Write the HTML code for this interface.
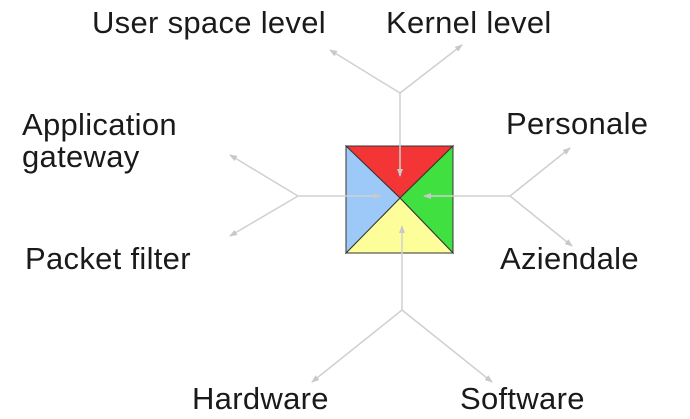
<!DOCTYPE html>
<html><head><style>
body{margin:0;width:690px;height:419px;background:#fff;overflow:hidden;position:relative;font-family:"Liberation Sans",Arial,sans-serif;}
.t{position:absolute;font-size:31px;letter-spacing:0.3px;color:#1a1a1a;line-height:32px;white-space:nowrap;}
</style></head><body>
<svg width="690" height="419" style="position:absolute;left:0;top:0">
<defs><marker id="a" markerWidth="8" markerHeight="8" refX="7" refY="4" orient="auto" markerUnits="userSpaceOnUse"><path d="M0,1 L8,4 L0,7 z" fill="#c8c8c8"/></marker></defs>
<g stroke="#d0d0d0" stroke-width="1.5" fill="none">
<path d="M400,93 L330,50" marker-end="url(#a)"/><path d="M400,93 L462,45" marker-end="url(#a)"/>
<path d="M298,196 L230,155" marker-end="url(#a)"/><path d="M298,196 L230,236" marker-end="url(#a)"/>
<path d="M510,196 L570,148" marker-end="url(#a)"/><path d="M510,196 L572,246" marker-end="url(#a)"/>
<path d="M402,310 L312,382" marker-end="url(#a)"/><path d="M402,310 L492,382" marker-end="url(#a)"/>
</g>
<polygon points="346,146 453,146 400,198" fill="#f43535" stroke="#333" stroke-width="1"/>
<polygon points="453,146 453,253 400,198" fill="#3fe03f" stroke="#333" stroke-width="1"/>
<polygon points="346,253 453,253 400,198" fill="#fdfd9a" stroke="#333" stroke-width="1"/>
<polygon points="346,146 346,253 400,198" fill="#9cc9f7" stroke="#333" stroke-width="1"/>
<g stroke="#d0d0d0" stroke-width="1.5" fill="none">
<path d="M400,93 L400,176" marker-end="url(#a)"/>
<path d="M298,196 L381,196" marker-end="url(#a)"/>
<path d="M510,196 L424,196" marker-end="url(#a)"/>
<path d="M402,310 L402,226" marker-end="url(#a)"/>
</g>
</svg>
<div class="t" style="left:92px;top:7px">User space level</div>
<div class="t" style="left:386px;top:7px">Kernel level</div>
<div class="t" style="left:22px;top:109px">Application<br>gateway</div>
<div class="t" style="left:506px;top:108px">Personale</div>
<div class="t" style="left:25px;top:243px">Packet filter</div>
<div class="t" style="left:500px;top:243px">Aziendale</div>
<div class="t" style="left:192px;top:383px">Hardware</div>
<div class="t" style="left:460px;top:383px">Software</div>
</body></html>
